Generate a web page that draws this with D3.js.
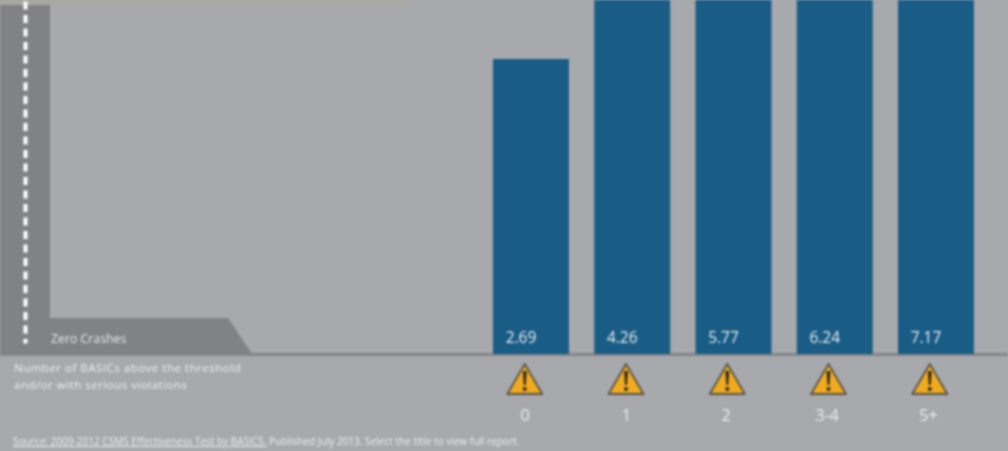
<!DOCTYPE html>
<html><head><meta charset="utf-8">
<script src="https://cdn.jsdelivr.net/npm/d3@7/dist/d3.min.js"></script>
<style>html,body{margin:0;padding:0;background:#a7a9ac;overflow:hidden}svg{display:block;filter:blur(0.9px)}text{font-family:"Open Sans",sans-serif}</style>
</head><body><svg id="c" width="1008" height="451"></svg>
<script>
const categories = ["0","1","2","3-4","5+"];
const values = [2.69,4.26,5.77,6.24,7.17];
const valueLabels = ["2.69","4.26","5.77","6.24","7.17"];
const baseLabel = "Zero Crashes";
const axisTitle = ["Number of BASICs above the threshold","and/or with serious violations"];
const sourceLinked = "Source: 2009-2012 CSMS Effectiveness Test by BASICS.";
const sourceRest = " Published July 2013. Select the title to view full report.";

const svg = d3.select("#c");
const W = 1008, H = 451, baseY = 354;
const x = d3.scaleBand().domain(categories).range([480.35,986.6]).paddingInner(0.25).paddingOuter(0.125);
const y = d3.scaleLinear().domain([0,2.69]).range([baseY,59]);
const cx = d => x(d)+x.bandwidth()/2;

svg.append("rect").attr("x",-5).attr("y",-5).attr("width",W+10).attr("height",H+10).attr("fill","#a7a9ac");
svg.append("rect").attr("x",-5).attr("y",-5).attr("width",412).attr("height",10).attr("fill","#aaa89f");
// road
svg.append("path").attr("d","M-5,5H50V318H228L252,354H-5Z").attr("fill","#808285");
svg.append("line").attr("x1",25.5).attr("x2",25.5).attr("y1",1.5).attr("y2",343.5)
  .attr("stroke","#fff").attr("stroke-width",4).attr("stroke-dasharray","8 5.5");
svg.append("rect").attr("x",-5).attr("y",353).attr("width",W+10).attr("height",3).attr("fill","#848588");

svg.append("g").selectAll("rect").data(values).join("rect")
  .attr("x",(d,i)=>x(categories[i])).attr("width",x.bandwidth())
  .attr("y",d=>y(d)).attr("height",d=>baseY-y(d)).attr("fill","#195c85");

svg.append("g").selectAll("text").data(valueLabels).join("text")
  .attr("x",(d,i)=>cx(categories[i])-10).attr("y",343).attr("text-anchor","middle")
  .attr("font-size",15.5).attr("fill","#e9edf0").text(d=>d);

const warn = svg.append("g").selectAll("g").data(categories).join("g")
  .attr("transform",d=>`translate(${cx(d)-6.2},0)`);
warn.append("path").attr("d","M0,364L17.5,394H-17.5Z").attr("fill","#f0aa1e")
  .attr("stroke","#55544c").attr("stroke-width",1.8).attr("stroke-linejoin","round");
warn.append("path").attr("d","M-1.9,371H1.9L1,385H-1Z").attr("fill","#2b2a24");
warn.append("circle").attr("cy",389).attr("r",2).attr("fill","#2b2a24");

svg.append("g").selectAll("text").data(categories).join("text")
  .attr("x",(d,i)=>cx(d)-(i<2?6:7.5)).attr("y",421).attr("text-anchor","middle")
  .attr("font-size",16).attr("fill","#eceded").text(d=>d);

svg.append("text").attr("x",51).attr("y",343).attr("font-size",12.3).attr("fill","#e8e8e9").text(baseLabel);
svg.append("g").selectAll("text").data(axisTitle).join("text")
  .attr("x",14).attr("y",(d,i)=>372+i*17).attr("font-size",11.5).attr("letter-spacing",0.5).attr("fill","#eeeeef").text(d=>d);

const src = svg.append("text").attr("x",13).attr("y",445).attr("font-size",10.05).attr("fill","#eeeeef");
src.append("tspan").attr("text-decoration","underline").text(sourceLinked);
src.append("tspan").attr("xml:space","preserve").text(sourceRest);
</script></body></html>
